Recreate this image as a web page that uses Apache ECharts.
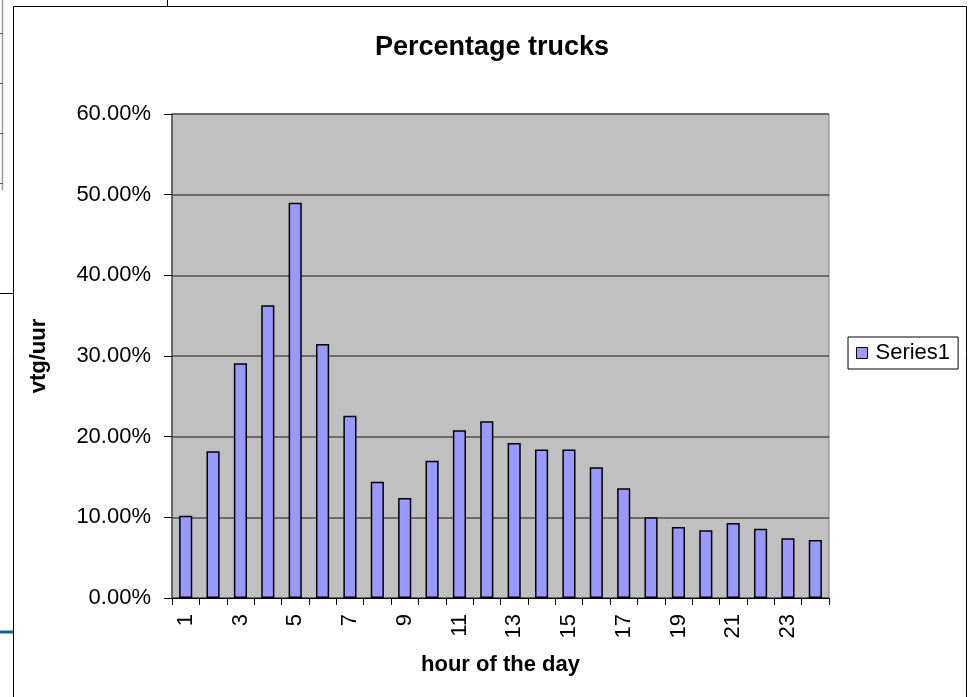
<!DOCTYPE html>
<html>
<head>
<meta charset="utf-8">
<script src="https://cdn.jsdelivr.net/npm/echarts@6/dist/echarts.min.js"></script>
<style>
  html, body { margin: 0; padding: 0; background: #fff; }
  #chart { width: 969px; height: 697px; }
</style>
</head>
<body>
<div id="chart"></div>
<script>
// hours of the day
var hours = ["1","2","3","4","5","6","7","8","9","10","11","12",
             "13","14","15","16","17","18","19","20","21","22","23","24"];
// share of trucks (%)
var truckShare = [10.2, 18.2, 29.1, 36.3, 49.0, 31.5, 22.6, 14.4, 12.4, 17.0, 20.8, 21.9,
                  19.2, 18.4, 18.4, 16.2, 13.6, 10.0, 8.8, 8.4, 9.3, 8.6, 7.4, 7.2];
var yTicks = [0, 10, 20, 30, 40, 50, 60];

var font = "Liberation Sans, Arial, sans-serif";
var chart = echarts.init(document.getElementById("chart"));

var option = {
  backgroundColor: "#fff",
  animation: false,
  title: {
    text: "Percentage trucks",
    left: 487,
    textAlign: "center",
    top: 29,
    textStyle: { fontFamily: font, fontSize: 27, fontWeight: "bold", color: "#000" }
  },
  legend: {
    data: ["Series1"],
    left: 848,
    top: 337,
    orient: "vertical",
    icon: "rect",
    backgroundColor: "#fff",
    borderColor: "#000",
    borderWidth: 1,
    padding: [5, 8, 5, 8],
    itemWidth: 11,
    itemHeight: 11,
    itemGap: 4,
    itemStyle: { borderColor: "#000", borderWidth: 1 },
    textStyle: { fontFamily: font, fontSize: 22, color: "#000", padding: [0, 0, 0, 3] }
  },
  grid: {
    left: 172, right: 140, top: 114, bottom: 99,
    show: true,
    backgroundColor: "#c0c0c0",
    borderColor: "#808080",
    borderWidth: 1
  },
  xAxis: {
    type: "category",
    data: hours,
    name: "hour of the day",
    nameLocation: "middle",
    nameGap: 56,
    nameTextStyle: { fontFamily: font, fontSize: 22, fontWeight: "bold", color: "#000" },
    axisLine: { lineStyle: { color: "#000", width: 1 } },
    axisTick: { show: true, interval: 0, length: 7, lineStyle: { color: "#000" } },
    axisLabel: {
      interval: 1, rotate: 90, margin: 16,
      fontFamily: font, fontSize: 22, color: "#000"
    }
  },
  yAxis: {
    type: "value",
    min: yTicks[0],
    max: yTicks[yTicks.length - 1],
    interval: 10,
    name: "vtg/uur",
    nameLocation: "middle",
    nameGap: 122,
    nameTextStyle: { fontFamily: font, fontSize: 22, fontWeight: "bold", color: "#000" },
    axisLine: { show: true, lineStyle: { color: "#505050", width: 1.5 } },
    axisTick: { show: true, length: 8, lineStyle: { color: "#000" } },
    axisLabel: {
      margin: 21,
      fontFamily: font, fontSize: 22, color: "#000",
      formatter: function (v) { return v.toFixed(2) + "%"; }
    },
    splitLine: { show: true, lineStyle: { color: "#505050", width: 1.5 } }
  },
  series: [{
    name: "Series1",
    type: "bar",
    data: truckShare,
    barWidth: "48%",
    itemStyle: { color: "#9999ff", borderColor: "#000", borderWidth: 1.5 }
  }],
  graphic: [
    // outer chart frame
    { type: "rect", shape: { x: 13.5, y: 6.5, width: 953, height: 700 },
      style: { fill: null, stroke: "#000", lineWidth: 1 } },
    // bits of the spreadsheet behind the chart
    { type: "line", shape: { x1: 2.5, y1: 0, x2: 2.5, y2: 190 }, style: { stroke: "#999", lineWidth: 1.5 } },
    { type: "line", shape: { x1: 0, y1: 33.5, x2: 3, y2: 33.5 }, style: { stroke: "#555", lineWidth: 1 } },
    { type: "line", shape: { x1: 0, y1: 83.5, x2: 3, y2: 83.5 }, style: { stroke: "#555", lineWidth: 1 } },
    { type: "line", shape: { x1: 0, y1: 133.5, x2: 3, y2: 133.5 }, style: { stroke: "#555", lineWidth: 1 } },
    { type: "line", shape: { x1: 0, y1: 183.5, x2: 3, y2: 183.5 }, style: { stroke: "#555", lineWidth: 1 } },
    { type: "line", shape: { x1: 167.5, y1: 0, x2: 167.5, y2: 6 }, style: { stroke: "#000", lineWidth: 1 } },
    { type: "line", shape: { x1: 0, y1: 293.5, x2: 13, y2: 293.5 }, style: { stroke: "#000", lineWidth: 1 } },
    { type: "line", shape: { x1: 0, y1: 632, x2: 13, y2: 632 }, style: { stroke: "#1f5f8b", lineWidth: 3 } }
  ]
};

chart.setOption(option);
</script>
</body>
</html>
